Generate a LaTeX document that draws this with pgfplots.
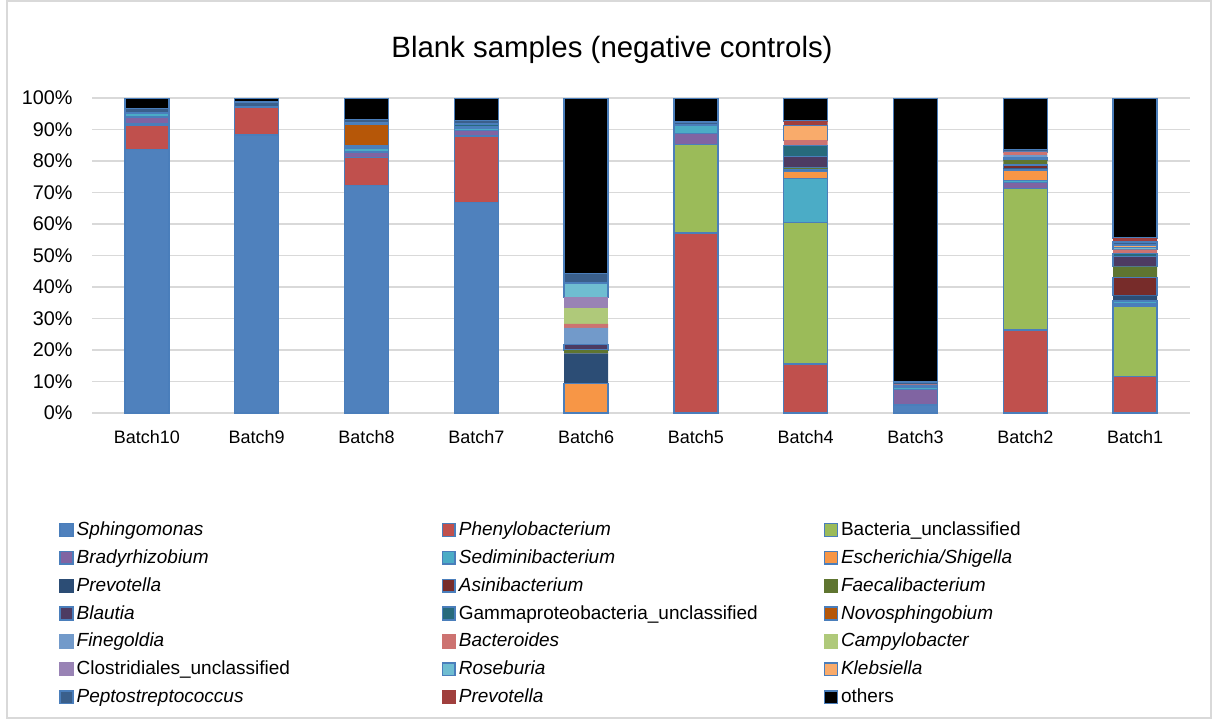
\documentclass[border=0pt]{standalone}
\usepackage{fontspec}
\setmainfont{Liberation Sans}
\usepackage{pgfplots}
\usepackage{pgfplotstable}
\pgfplotsset{compat=1.18}

% series colours
\definecolor{cSph}{HTML}{4F81BD}
\definecolor{cPhe}{HTML}{C0504D}
\definecolor{cBac}{HTML}{9BBB59}
\definecolor{cBra}{HTML}{8064A2}
\definecolor{cSed}{HTML}{4BACC6}
\definecolor{cEsc}{HTML}{F79646}
\definecolor{cPre}{HTML}{2C4D75}
\definecolor{cAsi}{HTML}{772C2A}
\definecolor{cFae}{HTML}{5F7530}
\definecolor{cBla}{HTML}{4D3B62}
\definecolor{cGam}{HTML}{276A7C}
\definecolor{cNov}{HTML}{B65708}
\definecolor{cFin}{HTML}{729ACA}
\definecolor{cBcd}{HTML}{CD7371}
\definecolor{cCam}{HTML}{AFC97A}
\definecolor{cClo}{HTML}{9983B5}
\definecolor{cRos}{HTML}{6FBDD1}
\definecolor{cKle}{HTML}{F9AB6B}
\definecolor{cPep}{HTML}{3A5F8B}
\definecolor{cPrb}{HTML}{A03F3D}
\definecolor{cOth}{HTML}{000000}
\definecolor{outl}{HTML}{4A7EBB}
\definecolor{gridgray}{HTML}{D9D9D9}

% relative abundance (%) per batch; columns s1..s21 follow the legend order
\pgfplotstableread{
x s1 s2 s3 s4 s5 s6 s7 s8 s9 s10 s11 s12 s13 s14 s15 s16 s17 s18 s19 s20 s21
0 83.7 7.7 0.5 2.1 1.0 0 0 0 0 0 0.3 0 0 0 0 0 0 0 1.3 0 3.4
1 88.3 8.9 0 0 0 0 0 0 0 0 0 0 0 0 0 0 0 0 1.5 0 1.3
2 72.2 8.9 0 1.8 1.2 0.3 0 0 0 0 0.5 6.8 0.4 0 0 0 0 0 1.0 0 6.9
3 66.9 20.8 0.4 1.6 0.7 0 0 0.4 0 0 1.0 0 0 0 0 0 0 0 1.1 0 7.1
4 0 0 0 0 0 9.4 9.5 0 1.1 1.7 0 0 5.3 1.3 5.0 3.4 4.6 0 3.0 0 55.7
5 0 57.2 28.1 3.5 2.6 0 0 0 0 0 0 0 0 0 0 0 0 0 1.0 0 7.6
6 0 15.5 45.0 0 14.0 2.1 0.3 0.4 0.5 3.6 3.6 0 0 1.6 0 0 0 4.6 0 1.5 7.3
7 2.6 0 0 4.8 0.7 0 0 0 0 0 0.5 0 0 0.5 0 0 0 0 0.8 0 90.1
8 0 26.3 45.0 1.8 0.8 3.2 0.6 1.0 1.6 0 0.6 0 1.0 1.0 0 0 0 0 0.8 0 16.3
9 0 11.5 22.5 0.6 0.9 0 1.8 5.8 3.4 3.2 0.9 0 0 1.3 0 0 0.7 0.7 1.0 1.2 44.5
}\abund

\pgfplotsset{
  % outlined segment and its legend square
  ob/.style={fill=#1, draw=outl, line width=0.7pt,
    legend image code/.code={\draw[##1, fill=#1, draw=outl, line width=0.7pt] (0pt,-3.2pt) rectangle (6.4pt,3.2pt);}},
  % segment without outline
  nb/.style={fill=#1, draw=none,
    legend image code/.code={\fill[#1] (-0.35pt,-3.55pt) rectangle (6.75pt,3.55pt);}},
}
\newcommand{\legtxt}[1]{\makebox[181pt][l]{\rule[-2pt]{0pt}{9pt}#1}}

\begin{document}
\begin{tikzpicture}
\useasboundingbox (0pt,0pt) rectangle (606.5pt,-359.5pt);
\draw[gridgray, line width=0.75pt] (3.5pt,-0.5pt) rectangle (605.5pt,-359pt);
\node[font=\fontsize{14.7}{16}\selectfont] at (306pt,-25pt) {Blank samples (negative controls)};
\begin{axis}[
  at={(46pt,-206.5pt)}, anchor=south west,
  scale only axis, width=549pt, height=157.5pt,
  xmin=-0.5, xmax=9.5, ymin=0, ymax=100,
  ybar stacked, bar width=0.4,
  xtick={0,...,9},
  xticklabels={Batch10,Batch9,Batch8,Batch7,Batch6,Batch5,Batch4,Batch3,Batch2,Batch1},
  ytick={0,10,...,100},
  yticklabels={0\%,10\%,20\%,30\%,40\%,50\%,60\%,70\%,80\%,90\%,100\%},
  axis line style={draw=none}, major tick length=0pt,
  ymajorgrids, grid style={gridgray, line width=0.9pt},
  xticklabel style={font=\fontsize{9}{10}\selectfont, anchor=base, inner sep=0pt, yshift=-15.25pt},
  yticklabel style={font=\fontsize{9.9}{11}\selectfont, anchor=east, inner sep=0pt, xshift=-9.5pt},
  legend columns=3,
  legend cell align=left,
  legend style={at={(axis description cs:-0.03,-0.333)}, anchor=north west,
    draw=none, fill=none, inner sep=0pt, row sep=2.45pt,
    nodes={inner sep=1.5pt},
    font=\fontsize{9.5}{11}\selectfont,
    /tikz/every even column/.append style={column sep=0pt}},
]
\addplot[ob=cSph] table[x=x,y=s1]{\abund};  \addlegendentry{\legtxt{\textit{Sphingomonas}}}
\addplot[ob=cPhe] table[x=x,y=s2]{\abund};  \addlegendentry{\legtxt{\textit{Phenylobacterium}}}
\addplot[ob=cBac] table[x=x,y=s3]{\abund};  \addlegendentry{\legtxt{Bacteria\_unclassified}}
\addplot[ob=cBra] table[x=x,y=s4]{\abund};  \addlegendentry{\legtxt{\textit{Bradyrhizobium}}}
\addplot[ob=cSed] table[x=x,y=s5]{\abund};  \addlegendentry{\legtxt{\textit{Sediminibacterium}}}
\addplot[ob=cEsc] table[x=x,y=s6]{\abund};  \addlegendentry{\legtxt{\textit{Escherichia/Shigella}}}
\addplot[nb=cPre] table[x=x,y=s7]{\abund};  \addlegendentry{\legtxt{\textit{Prevotella}}}
\addplot[ob=cAsi] table[x=x,y=s8]{\abund};  \addlegendentry{\legtxt{\textit{Asinibacterium}}}
\addplot[nb=cFae] table[x=x,y=s9]{\abund};  \addlegendentry{\legtxt{\textit{Faecalibacterium}}}
\addplot[ob=cBla] table[x=x,y=s10]{\abund}; \addlegendentry{\legtxt{\textit{Blautia}}}
\addplot[ob=cGam] table[x=x,y=s11]{\abund}; \addlegendentry{\legtxt{Gammaproteobacteria\_unclassified}}
\addplot[ob=cNov] table[x=x,y=s12]{\abund}; \addlegendentry{\legtxt{\textit{Novosphingobium}}}
\addplot[nb=cFin] table[x=x,y=s13]{\abund}; \addlegendentry{\legtxt{\textit{Finegoldia}}}
\addplot[nb=cBcd] table[x=x,y=s14]{\abund}; \addlegendentry{\legtxt{\textit{Bacteroides}}}
\addplot[nb=cCam] table[x=x,y=s15]{\abund}; \addlegendentry{\legtxt{\textit{Campylobacter}}}
\addplot[nb=cClo] table[x=x,y=s16]{\abund}; \addlegendentry{\legtxt{Clostridiales\_unclassified}}
\addplot[ob=cRos] table[x=x,y=s17]{\abund}; \addlegendentry{\legtxt{\textit{Roseburia}}}
\addplot[ob=cKle] table[x=x,y=s18]{\abund}; \addlegendentry{\legtxt{\textit{Klebsiella}}}
\addplot[ob=cPep] table[x=x,y=s19]{\abund}; \addlegendentry{\legtxt{\textit{Peptostreptococcus}}}
\addplot[nb=cPrb] table[x=x,y=s20]{\abund}; \addlegendentry{\legtxt{\textit{Prevotella}}}
\addplot[ob=cOth] table[x=x,y=s21]{\abund}; \addlegendentry{\legtxt{others}}
\end{axis}
\end{tikzpicture}
\end{document}
